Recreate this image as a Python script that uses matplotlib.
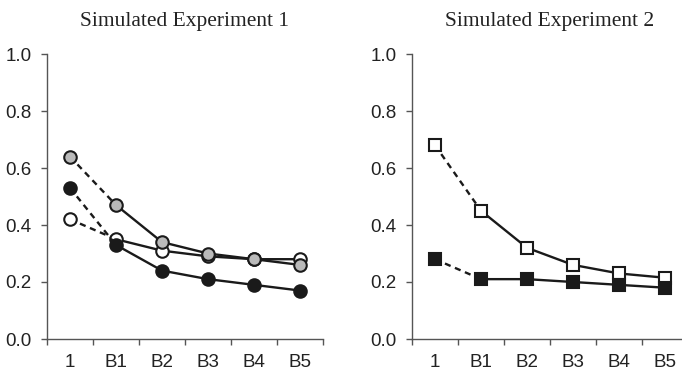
import matplotlib
matplotlib.use("Agg")
import matplotlib.pyplot as plt

categories = ["1", "B1", "B2", "B3", "B4", "B5"]
yticks = [0.0, 0.2, 0.4, 0.6, 0.8, 1.0]

exp1_open = [0.42, 0.35, 0.31, 0.29, 0.28, 0.28]
exp1_black = [0.53, 0.33, 0.24, 0.21, 0.19, 0.17]
exp1_gray = [0.64, 0.47, 0.34, 0.30, 0.28, 0.26]

exp2_open = [0.68, 0.45, 0.32, 0.26, 0.23, 0.215]
exp2_black = [0.28, 0.21, 0.21, 0.20, 0.19, 0.18]

titles = ["Simulated Experiment 1", "Simulated Experiment 2"]

fig = plt.figure(figsize=(6.82, 3.73), dpi=100)
ax1 = fig.add_axes([47/682, 1-339/373, 276/682, 285/373])
ax2 = fig.add_axes([412/682, 1-339/373, 276/682, 285/373])

x = list(range(len(categories)))
LC = "#1a1a1a"

def series(ax, ys, marker, face, ms, z):
    ax.plot(x[:2], ys[:2], color=LC, lw=1.7, ls=(0, (2.6, 2.0)), zorder=z, dash_capstyle="butt")
    ax.plot(x[1:], ys[1:], color=LC, lw=1.7, ls="-", zorder=z)
    ax.plot(x, ys, ls="none", marker=marker, ms=ms, mfc=face, mec=LC, mew=1.5, zorder=z + 0.5)

series(ax1, exp1_open, "o", "white", 9, 3)
series(ax1, exp1_black, "o", LC, 9, 4)
series(ax1, exp1_gray, "o", "#bababa", 9, 5)

series(ax2, exp2_open, "s", "white", 8.5, 3)
series(ax2, exp2_black, "s", LC, 8.5, 4)

for ax, t in zip([ax1, ax2], titles):
    ax.set_xlim(-0.5, 5.5)
    ax.set_ylim(0, 1.0)
    ax.set_yticks(yticks)
    ax.set_yticklabels([f"{v:.1f}" for v in yticks], family="Liberation Sans", fontsize=13.5, color="#222222")
    ax.set_xticks([i - 0.5 for i in range(len(categories) + 1)])
    ax.set_xticklabels([])
    ax.set_xticks(x, minor=True)
    ax.set_xticklabels(categories, minor=True, family="Liberation Sans", fontsize=13.5, color="#222222")
    ax.tick_params(axis="x", which="minor", length=0, pad=11)
    ax.tick_params(axis="x", which="major", length=4, width=1, color="#555555", direction="out")
    ax.tick_params(axis="y", length=4, width=1, color="#555555", direction="out", pad=7)
    for s in ["top", "right"]:
        ax.spines[s].set_visible(False)
    for s in ["left", "bottom"]:
        ax.spines[s].set_color("#555555")
        ax.spines[s].set_linewidth(1.0)
    ax.set_facecolor("none")
    ax.set_title(t, family="Liberation Serif", fontsize=15.5, color="#222222", pad=20)
    for sp in ax.spines.values():
        sp.set_clip_on(False)

fig.savefig("out.png", dpi=100)
